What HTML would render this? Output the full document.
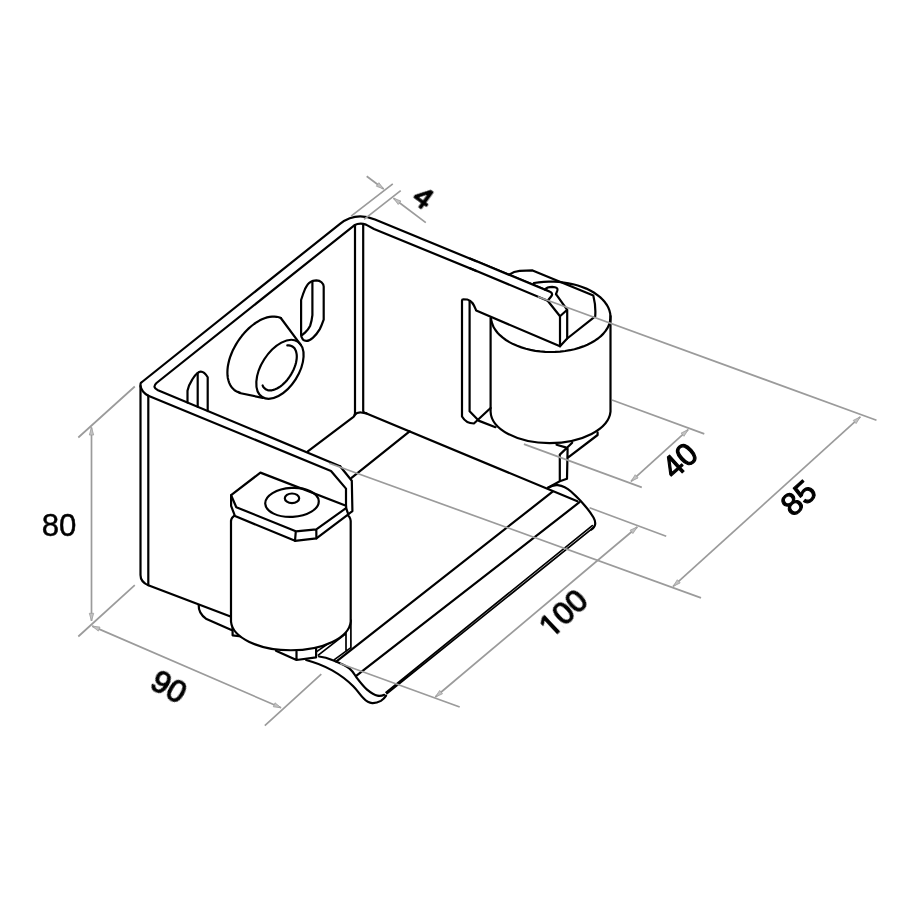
<!DOCTYPE html>
<html>
<head>
<meta charset="utf-8">
<title>Drawing</title>
<style>
html,body{margin:0;padding:0;background:#fff;}
body{width:920px;height:920px;overflow:hidden;}
svg{display:block;}
.k{fill:none;stroke:#000;stroke-width:2.2;stroke-linecap:round;stroke-linejoin:round;}
.w{fill:#fff;stroke:#000;stroke-width:2.2;stroke-linecap:round;stroke-linejoin:round;}
.g{fill:none;stroke:#9b9b9b;stroke-width:1.7;stroke-linecap:butt;}
.a{fill:#c2c2c2;stroke:#9e9e9e;stroke-width:0.8;stroke-linejoin:miter;}
.f{fill:#fff;stroke:none;}
text{font-family:"Liberation Sans",sans-serif;fill:#000;}
.b{font-size:31.5px;stroke:#000;stroke-width:1.15;stroke-linejoin:round;text-anchor:middle;}
</style>
</head>
<body>
<svg width="920" height="920" viewBox="0 0 920 920">
<rect width="920" height="920" fill="#fff"/>

<!-- ===== left wall features ===== -->
<g id="boss">
<path class="k" d="M280.8,318.1 L278.8,317.3 L276.7,316.8 L274.4,316.6 L272.1,316.6 L269.7,316.9 L267.1,317.4 L264.6,318.2 L262.0,319.3 L259.4,320.6 L256.7,322.2 L254.1,324.0 L251.5,326.0 L249.0,328.1 L246.6,330.5 L244.2,333.1 L241.9,335.8 L239.8,338.6 L237.8,341.5 L235.9,344.6 L234.2,347.7 L232.6,350.8 L231.3,354.0 L230.1,357.2 L229.1,360.4 L228.4,363.5 L227.8,366.6 L227.5,369.6 L227.4,372.5 L227.5,375.2 L227.8,377.9 L228.4,380.3 L229.1,382.6 L230.1,384.7 L231.2,386.6 L232.6,388.3 L234.1,389.8 L235.8,391.0 L237.7,391.9 L239.7,392.6"/>
<path class="k" d="M280.8,318 L300.9,345.2 M239.5,393 L262.8,397.9"/>
<ellipse class="k" cx="279.95" cy="369.3" rx="32.9" ry="18.6" transform="rotate(-57.4 279.95 369.3)"/>
<path class="k" d="M287.3,345.4 L288.8,345.4 L290.2,345.6 L291.5,346.0 L292.7,346.7 L293.8,347.6 L294.7,348.6 L295.4,349.9 L296.0,351.3 L296.4,352.9 L296.7,354.6 L296.8,356.5 L296.7,358.5 L296.4,360.6 L296.0,362.7 L295.4,364.9 L294.6,367.2 L293.7,369.4 L292.6,371.6 L291.4,373.8 L290.1,375.9 L288.7,378.0 L287.2,379.9 L285.6,381.7 L283.9,383.4 L282.2,385.0 L280.5,386.4 L278.7,387.5 L277.0,388.5 L275.2,389.3 L273.5,389.9 L271.9,390.3 L270.3,390.4 L268.9,390.4 L267.5,390.1 L266.2,389.5 L265.1,388.8 L264.1,387.9 L263.2,386.8 L262.6,385.4"/>
</g>
<g id="slots">
<path class="k" d="M187.5,402.6 L187.5,390.7 C188.5,386 190,383 192.2,379.6 C194.5,376 197,371.9 200.7,371.7 C203.5,371.6 206,374.5 207.7,377.3 L207.7,411.1"/>
<path class="k" d="M197.7,373 L197.7,406.8"/>
<path class="k" d="M301.1,335 L301.1,300 C302.5,295.5 303.5,292.5 305,289.1 C307,285 309,282.8 310.2,282.2 C312,280.8 314,280.3 316.3,280.3 C319,280.4 320.5,281.3 321.5,282.2 C323,283.5 323.7,285 323.7,286.5 L323.7,319.6 C322.5,323 321.5,326 319.8,329.1 C317.5,333 315,336 312.8,337.8 C310.5,339.7 308.5,340.9 306.7,340.9 C304.5,340.9 303,339.8 302.4,338.7 Q301.1,337 301.1,335 Z"/>
<path class="k" d="M312.4,281.7 L312.4,315.2 C312,319 311.2,322.5 310.2,325.7 C308.8,328.5 307,330.8 305,332.6 L302,335.2"/>
</g>

<!-- ===== box outline ===== -->
<g id="box">
<path class="k" d="M230.5,616.5 L148.3,585.2 Q140.5,582 140.5,575 L140.5,384 Q140.5,382.8 142,382.0 L340,223.8 Q355.5,211.4 375,219.5 L548.3,290.9"/>
<path class="k" d="M148.3,585.2 L148.3,395.6"/>
<path class="k" d="M140.5,386 Q141.5,392 148.3,395.7 L331,471 L346,488.6 L346,515"/>
<path class="k" d="M340.1,466.2 L158,390.3 Q151.8,387.3 156.5,383.0 L354.3,225.3 Q359.6,222.5 366,224.6 L374,229 L547.7,300.2"/>
<path class="k" d="M340.1,466.2 L351.8,480.8 L352.4,511.1 L346,516"/>
<path class="k" d="M307.8,451.4 L353.5,416.8 Q355,415.5 355,413 L355,225.5"/>
<path class="k" d="M363.2,224.5 L363.2,411 Q363.2,412.5 366.5,413.4 L577.4,501.3"/>
<path class="k" d="M409.6,431.3 L351.5,477.8"/>
<path class="k" d="M354.6,415 Q357,412.2 361,412.5 L366.5,413.4"/>
</g>

<!-- ===== back roller ===== -->
<g id="backroller">
<path class="f" d="M490.6,318 L490.6,411.7 A60,32.6 -0.7 0 0 610.5,411.7 L610.5,316 Z"/>
<path class="k" d="M490.6,318 L490.6,411.7 A60,32.6 -0.7 0 0 610.5,411.7 L610.5,316"/>
<path class="k" d="M533.9,283.0 L538.8,282.3 L543.7,281.8 L548.7,281.6 L553.7,281.7 L558.7,281.9 L563.7,282.5 L568.5,283.3 L573.2,284.3 L577.8,285.5 L582.1,287.0 L586.3,288.6 L590.2,290.5 L593.8,292.5 L597.1,294.8 L600.1,297.1 L602.8,299.7 L605.0,302.3 L606.9,305.0 L608.4,307.8 L609.5,310.7 L610.2,313.6 L610.5,316.6 L610.3,319.5 L609.8,322.5 L608.8,325.3 L607.4,328.2 L605.6,330.9 L603.4,333.6 L600.9,336.1 L598.0,338.5 L594.8,340.7 L591.2,342.8 L587.4,344.7 L583.3,346.4 L579.0,347.9 L574.5,349.2 L569.9,350.2 L565.1,351.0 L560.1,351.6 L555.2,351.9 L550.2,352.0 L545.2,351.8 L540.2,351.4 L535.3,350.8 L530.5,349.9 L525.9,348.7 L521.4,347.4 L517.2,345.8 L513.1,344.1 L509.4,342.1 L505.9,340.0 L502.8,337.7 L499.9,335.2 L497.5,332.7 L495.4,330.0 L493.7,327.2 L492.4,324.3 L491.5,321.4 L491.0,318.5"/>
<path class="k" d="M509.1,274.6 Q514,271.3 519.6,270.9 L532.6,270.4 L593.3,295.4 Q596,306 595.2,316.3 L567.2,338.5"/>
<!-- wall end -->
<path class="f" d="M476.5,310.4 L560,346.3 L567.2,338.5 L567.2,309.8 L556,294 L548.3,290.9 L476.5,261.3 Z"/>
<path class="k" d="M470,258.6 L550.5,292 Q553,293.5 551.5,296 L547.7,300.7 M470,268.3 L547.7,300.7"/>
<path class="k" d="M547.7,300.7 L560,316.3 L560,346.3 L567.2,338.5 L567.2,309.8 L556,294.1 M560,316.3 L567.2,309.8"/>
<path class="k" d="M545,289.6 Q547,286.8 552.2,286.8 Q558.5,287.2 557.4,290.4 L556,294.1"/>
<!-- notch -->
<path class="k" d="M490.6,408 L473.9,423.5 Q466,423.5 462,416.5 L462,300.6 Q462,299.4 463.4,299.4 L467.3,299.5 C472.5,300.5 474.3,306 476.2,310.6 L560,346.3"/>
<path class="k" d="M469.6,301 L469.6,411.3 L479.1,420.9 L495.5,427.2"/>
<!-- lower tab -->
<path class="k" d="M597.6,432.4 L597.6,435 L567.6,457.8 M572.2,442.8 L559.8,454.6 L559.8,481.3 L567,478.7 L567.6,448.7 M556.5,444.8 L565.7,447.4 M559.8,481.3 L548,487.8"/>
</g>

<!-- ===== floor lip ===== -->
<g id="lip">
<path class="k" d="M336.2,661.6 L552.6,491.7"/>
<path class="k" d="M356.5,675.7 L579.5,502.2"/>
<path class="k" style="stroke-width:1.7" d="M386.0,692.3 L592.3,525.6 M387.0,693.7 L593.7,527.4"/>
<path class="k" d="M548,487.8 Q553,484.6 557.8,485.2 C563,486 567,488 571,491.5 C580,499.5 589,510 593.5,517.5 Q596.3,522.5 594.6,526 Q593.5,528.3 591.3,529.6"/>
<path class="k" d="M306.1,660 C318,663 326,667 332.2,670.4 C342,676 348,681 353,686.1 C358,691 360,695 363.5,698.3 C366,701 369,703 372.2,703.1 C376,703.3 378,702.5 380.9,700.9 Q384,699 386.1,695.7"/>
<path class="k" d="M319.1,656.5 C325,657 329,658.5 332.2,660 C340,663 345,665 349.6,668.7 C353,671.5 354.5,674.5 356.5,677.4 C360,682 363,686 367,689.6 C370.5,692.5 373.5,695 377.4,695.7 Q381,696.3 384.3,694.8"/>
</g>

<!-- ===== front roller ===== -->
<g id="frontroller">
<!-- flange -->
<path class="k" d="M198.7,605 Q198.3,613.5 206.5,619.1 L232.6,630.4 M232.6,625.2 L232.6,635.3 L241.3,636.5"/>
<!-- bottom plate -->
<path class="k" d="M275.9,650.8 L296.5,660 L316.1,657.3 M296.5,651.6 L296.5,660 M316.1,648.5 L316.1,657.3"/>
<path class="k" style="stroke-width:1.7" d="M318.3,655.1 L346,633.6 M317,651.4 L346,631.2 M346,630.1 L346,651.3 M350.9,620 L350.9,648 M334.4,659.6 L350.9,647.6"/>
<path class="w" d="M231,520.4 L231,621.5 A59.9,30 0 0 0 350.7,621.5 L350.7,520.9 Q350,516 347,515 L236,515 Q231,517 231,521.5 Z"/>
<!-- top plate -->
<path class="w" d="M231.1,495.2 L260.4,472.6 L346,505.7 L346.2,508.3 L348.3,514.3 L316.4,538.4 L295,540.8 L235,516.1 L231.1,505.9 Z"/>
<path class="k" d="M231.1,495.2 L236.3,507.2 L295.8,531.3 L316.3,529.3 L346,508.2 M295.8,531.3 L295,540.8 M316.3,529.3 L316.4,538.4"/>
<ellipse class="k" cx="292" cy="502.4" rx="26.8" ry="14.5" transform="rotate(-3 292 502.4)"/>
<ellipse class="k" cx="292" cy="498.3" rx="7.2" ry="4.8"/>
</g>

<!-- ===== dimensions ===== -->
<g id="dims">
<path class="g" d="M329.3,463.2 L701,597.9"/>
<path class="g" d="M340,663.5 L459.7,707"/>
<path class="g" d="M435.3,697 L637.3,527"/>
<path class="g" d="M589.6,507.8 L666.2,536.2"/>
<path class="g" d="M523.9,444.1 L641.8,487.4"/>
<path class="g" d="M612,400 L704.3,433.9"/>
<path class="g" d="M631,481.4 L688.2,429.6"/>
<path class="g" d="M537.8,296.7 L876.5,420.3"/>
<path class="g" d="M673.1,586.4 L860.3,416.9"/>
<path class="g" d="M134.8,386.5 L78.3,437.5 M134.8,585.2 L78.3,636.5 M91.5,427.4 L91.5,620.9"/>
<path class="g" d="M92.2,626.1 L281.1,707.8 M321.3,674.1 L264.8,725.7"/>
<path class="g" d="M351.1,216.1 L392.8,183.9 M364,219.3 L400.7,190.7 M366.7,176.3 L383.7,189 M425.8,222.6 L393.5,198.2"/>
<g id="arrows">
<polygon class="a" points="435.3,697.0 439.7,690.4 442.5,693.8"/>
<polygon class="a" points="637.3,527.0 632.9,533.6 630.1,530.2"/>
<polygon class="a" points="631.0,481.4 635.2,474.7 638.1,477.9"/>
<polygon class="a" points="688.2,429.6 684.0,436.3 681.1,433.1"/>
<polygon class="a" points="673.1,586.4 677.3,579.7 680.2,582.9"/>
<polygon class="a" points="860.3,416.9 856.1,423.6 853.2,420.4"/>
<polygon class="a" points="91.5,427.4 93.7,435.0 89.3,435.0"/>
<polygon class="a" points="91.5,620.9 89.3,613.3 93.7,613.3"/>
<polygon class="a" points="92.2,626.1 100.0,627.1 98.3,631.1"/>
<polygon class="a" points="281.1,707.8 273.3,706.8 275.0,702.8"/>
<polygon class="a" points="383.7,189.0 376.3,186.2 378.9,182.7"/>
<polygon class="a" points="393.5,198.2 400.9,201.0 398.2,204.5"/>
</g>
</g>

<!-- ===== texts ===== -->
<defs><clipPath id="c1"><path d="M-40,-30 H40 V14 H-9.2 V7.8 H-14.9 V14 H-19.0 V7.8 H-40 Z"/></clipPath></defs>
<g id="texts" style="filter:grayscale(1)">
<text x="41.7" y="535.5" font-size="31.2" style="stroke:#000;stroke-width:0.45">80</text>
<text class="b" transform="translate(169,686.6) rotate(30)" x="0" y="11.2">90</text>
<text class="b" clip-path="url(#c1)" transform="translate(563.3,613) rotate(-43)" x="0" y="11.2">100</text>
<text class="b" transform="translate(679.6,460.3) rotate(-42)" x="0" y="11.2">40</text>
<text class="b" transform="translate(798.3,497.6) rotate(-42)" x="0" y="11.2">85</text>
<text class="b" transform="translate(423.8,196.8) rotate(36)" x="0" y="10.7" style="font-size:30px;stroke-width:1.5">4</text>
</g>
</svg>
</body>
</html>
